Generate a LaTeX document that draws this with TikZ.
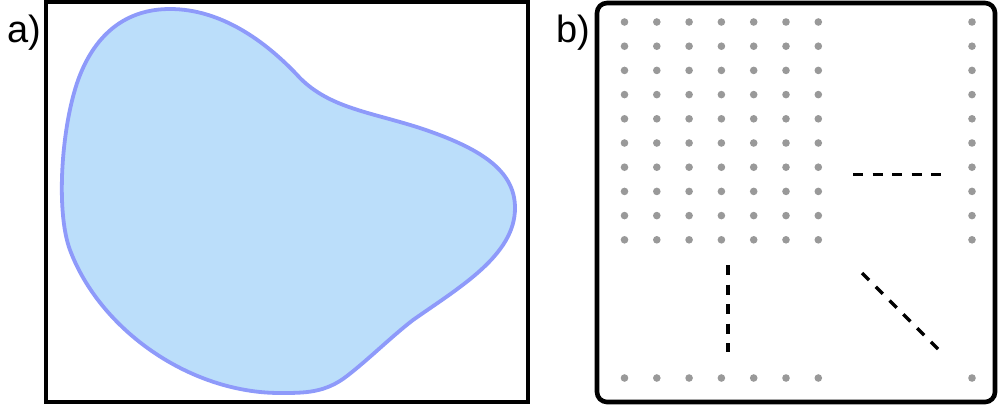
\documentclass[tikz,border=0pt]{standalone}
\usepackage{fontspec}
\setmainfont{Liberation Sans}
\definecolor{blobline}{RGB}{142,154,250}
\definecolor{blobfill}{RGB}{187,222,250}
\definecolor{dotgrey}{RGB}{153,153,153}
\begin{document}
\begin{tikzpicture}[x=1pt,y=-1pt,
  frame/.style={draw=black,line width=4.2pt},
  blob/.style={draw=blobline,fill=blobfill,line width=3.8pt},
  site/.style={fill=dotgrey},
  cut/.style={draw=black,line width=3.4pt,dash pattern=on 10pt off 9.5pt},
  tag/.style={font=\fontsize{38}{40}\selectfont,inner sep=0pt,anchor=base west}]
\useasboundingbox (0,0) rectangle (999,408);

% panel a: the region
\draw[frame] (46,2) rectangle (528,402);
\draw[blob] (170,9) .. controls (220,9) and (265,40) .. (300,78)
  .. controls (330,108) and (370,112) .. (420,128)
  .. controls (480,148) and (515,170) .. (515,208)
  .. controls (515,255) and (460,287) .. (413,320)
  .. controls (391,337) and (369,359) .. (347,376)
  .. controls (325,393) and (305,393) .. (280,393)
  .. controls (190,393) and (100,330) .. (70,250)
  .. controls (55,210) and (62,120) .. (80,75)
  .. controls (96,35) and (125,9) .. cycle;
\node[tag] (ta) at (7,42) {a)};

% panel b: the sampled grid
\draw[frame,line width=4.6pt,rounded corners=10pt] (597,3) rectangle (995,402);
\node[tag] (tb) at (556,42) {b)};
\foreach \y in {22,46.2,70.4,94.6,118.8,143,167.2,191.4,215.6,239.8} {
  \foreach \x in {624.5,656.8,689.1,721.4,753.7,786,818.3,972}
    \fill[site] (\x,\y) circle (3.8pt);
}
\foreach \x in {624.5,656.8,689.1,721.4,753.7,786,818.3,972}
  \fill[site] (\x,378) circle (3.8pt);

\draw[cut] (853,174.5) -- (941,174.5);
\draw[cut] (728,265) -- (728,352);
\draw[cut] (862,273) -- (938,349);
\end{tikzpicture}
\end{document}
